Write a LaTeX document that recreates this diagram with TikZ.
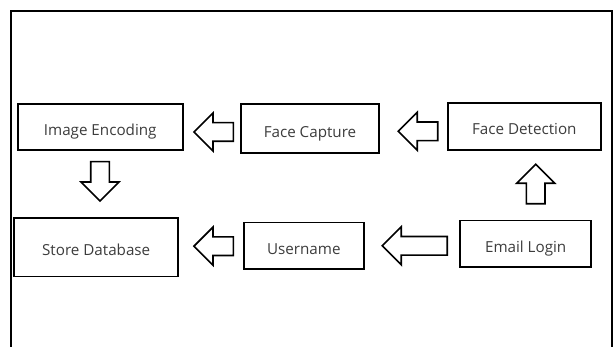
\documentclass[tikz,border=0pt]{standalone}
\usepackage{fontspec}
\setmainfont{Open Sans}
\usetikzlibrary{shapes.arrows,calc}
\definecolor{labelgray}{RGB}{60,60,60}
\begin{document}
\begin{tikzpicture}[x=1pt,y=-1pt,
  stage/.style={draw=black, line width=1.8pt, rectangle, inner sep=0pt,
    text=labelgray, font=\fontsize{15.2}{18}\selectfont,
    text height=17.2pt, text depth=0pt},
  flow/.style={draw=black, line width=1.6pt, fill=white, single arrow,
    inner sep=8.5pt, single arrow head extend=9.75pt,
    minimum height=39.5pt, line join=miter, anchor=tip},
  frame/.style={line width=1.6pt, line join=miter}]
\useasboundingbox (0,0) rectangle (614,347);
% open frame around the flow
\draw[frame] (11,347) -- (11,11) -- (612,11) -- (612,347);

% processing stages
\node[stage, minimum width=165pt, minimum height=46pt] (enc) at (100.2,127) {Image Encoding};
\node[stage, minimum width=138pt, minimum height=49.6pt] (cap) at (310,128.5) {Face Capture};
\node[stage, minimum width=153.3pt, minimum height=47.3pt] (det) at (524.3,126.3) {Face Detection};
\node[stage, minimum width=163.7pt, minimum height=58.8pt] (db) at (96.2,247.1) {Store Database};
\node[stage, minimum width=120.3pt, minimum height=46.2pt] (user) at (303.8,245.6) {Username};
\node[stage, minimum width=130.7pt, minimum height=46.5pt] (mail) at (525.7,243.7) {Email Login};

% block arrows between the stages, placed by their tips
\node[flow, shape border rotate=180] (a1) at ($(enc.east)+(9.2,5)$) {};
\node[flow, shape border rotate=180] (a2) at ($(cap.east)+(17.2,2.8)$) {};
\node[flow, shape border rotate=270] (a3) at ($(db.north)+(3.8,-14.6)$) {};
\node[flow, shape border rotate=90] (a4) at ($(det.south)+(11.4,12.25)$) {};
\node[flow, shape border rotate=180] (a5) at ($(db.east)+(13.85,-0.9)$) {};
\node[flow, shape border rotate=180, minimum height=65pt] (a6) at ($(user.east)+(16.25,0.2)$) {};
\end{tikzpicture}
\end{document}
